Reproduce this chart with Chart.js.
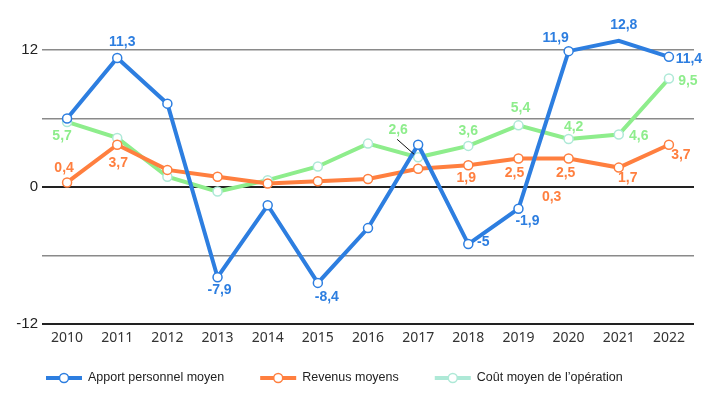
<!DOCTYPE html>
<html>
<head>
<meta charset="utf-8">
<script src="https://cdn.jsdelivr.net/npm/chart.js@4/dist/chart.umd.min.js"></script>
<style>
  body { margin: 0; background: #fff; }
  #wrap { width: 709px; height: 393px; }
</style>
</head>
<body>
<div id="wrap"><canvas id="chart" width="709" height="393"></canvas></div>
<script>
// données
const years = ['2010', '2011', '2012', '2013', '2014', '2015', '2016', '2017', '2018', '2019', '2020', '2021', '2022'];
const apport = [6.0, 11.3, 7.3, -7.9, -1.6, -8.4, -3.6, 3.7, -5, -1.9, 11.9, 12.8, 11.4];
const revenus = [0.4, 3.7, 1.5, 0.9, 0.3, 0.5, 0.7, 1.6, 1.9, 2.5, 2.5, 1.7, 3.7];
const cout = [5.7, 4.3, 0.9, -0.4, 0.6, 1.8, 3.8, 2.6, 3.6, 5.4, 4.2, 4.6, 9.5];
const seriesNames = ['Apport personnel moyen', 'Revenus moyens', 'Coût moyen de l\u2019opération'];
const yLabeled = [-12, 0, 12];

const BLUE = '#2d7ee0', ORANGE = '#ff7f3f', GREEN = '#8eed8c', MINT = '#aee9d7';

// étiquettes : série, index du point, décalage (px)
const labelSpots = [
  { ds: 0, i: 1, dx: 5, dy: -16 },
  { ds: 0, i: 3, dx: 2, dy: 13 },
  { ds: 0, i: 5, dx: 9, dy: 14 },
  { ds: 0, i: 8, dx: 15, dy: -2 },
  { ds: 0, i: 9, dx: 9, dy: 12 },
  { ds: 0, i: 10, dx: -13, dy: -13 },
  { ds: 0, i: 11, dx: 5, dy: -16 },
  { ds: 0, i: 12, dx: 20, dy: 2 },
  { ds: 1, i: 0, dx: -3, dy: -14 },
  { ds: 1, i: 1, dx: 1, dy: 18 },
  { ds: 1, i: 8, dx: -2, dy: 13 },
  { ds: 1, i: 9, dx: -4, dy: 15 },
  { ds: 1, i: 10, dx: -3, dy: 15 },
  { ds: 1, i: 4, at: 10, dx: -17, dy: 39 },
  { ds: 1, i: 11, dx: 9, dy: 11 },
  { ds: 1, i: 12, dx: 12, dy: 10 },
  { ds: 2, i: 0, dx: -5, dy: 14 },
  { ds: 2, i: 7, dx: -20, dy: -27, leader: true },
  { ds: 2, i: 8, dx: 0, dy: -15 },
  { ds: 2, i: 9, dx: 2, dy: -17 },
  { ds: 2, i: 10, dx: 5, dy: -12 },
  { ds: 2, i: 11, dx: 20, dy: 2 },
  { ds: 2, i: 12, dx: 19, dy: 3 }
];

function fmt(v) {
  return String(v).replace('.', ',');
}

const valueLabels = {
  id: 'valueLabels',
  afterDatasetsDraw(chart) {
    const ctx = chart.ctx;
    ctx.save();
    ctx.font = 'bold 14px "Liberation Sans", Arial, sans-serif';
    ctx.textAlign = 'center';
    ctx.textBaseline = 'middle';
    labelSpots.forEach(s => {
      const ds = chart.data.datasets[s.ds];
      const pt = chart.getDatasetMeta(s.ds).data[s.at !== undefined ? s.at : s.i];
      const x = pt.x + s.dx, y = pt.y + s.dy;
      if (s.leader) {
        ctx.strokeStyle = '#111';
        ctx.lineWidth = 1;
        ctx.beginPath();
        ctx.moveTo(x - 1, y + 9);
        ctx.lineTo(pt.x - 4, pt.y - 3);
        ctx.stroke();
      }
      ctx.fillStyle = ds.borderColor;
      ctx.fillText(fmt(ds.data[s.i]), x, y);
    });
    ctx.restore();
  }
};

// légende dessinée à la main
const bottomLegend = {
  id: 'bottomLegend',
  afterDraw(chart) {
    const ctx = chart.ctx;
    const colors = [BLUE, ORANGE, MINT];
    const y = 378;
    let x = 46;
    ctx.save();
    ctx.font = '12.5px "Liberation Sans", Arial, sans-serif';
    ctx.textBaseline = 'middle';
    ctx.textAlign = 'left';
    seriesNames.forEach((name, k) => {
      ctx.strokeStyle = colors[k];
      ctx.lineWidth = 4;
      ctx.beginPath();
      ctx.moveTo(x, y);
      ctx.lineTo(x + 36, y);
      ctx.stroke();
      ctx.fillStyle = '#fff';
      ctx.lineWidth = 1.5;
      ctx.beginPath();
      ctx.arc(x + 18, y, 4.5, 0, Math.PI * 2);
      ctx.fill();
      ctx.stroke();
      ctx.fillStyle = '#222';
      ctx.fillText(name, x + 42, y);
      x += 42 + ctx.measureText(name).width + 36;
    });
    ctx.restore();
  }
};

function lineSet(label, data, color, pointColor) {
  return {
    label: label,
    data: data,
    borderColor: color,
    borderWidth: 4,
    pointRadius: 4.5,
    pointBorderWidth: 1.5,
    pointBackgroundColor: '#fff',
    pointBorderColor: pointColor,
    tension: 0,
    clip: false
  };
}

new Chart(document.getElementById('chart').getContext('2d'), {
  type: 'line',
  data: {
    labels: years,
    datasets: [
      lineSet(seriesNames[0], apport, BLUE, BLUE),
      lineSet(seriesNames[1], revenus, ORANGE, ORANGE),
      lineSet(seriesNames[2], cout, GREEN, MINT)
    ]
  },
  options: {
    responsive: false,
    animation: false,
    layout: { padding: { top: 50, right: 15, bottom: 39, left: 0 } },
    plugins: {
      legend: { display: false },
      tooltip: { enabled: false }
    },
    scales: {
      x: {
        offset: true,
        grid: { display: false, drawTicks: false },
        border: { display: false },
        ticks: {
          padding: 6,
          color: '#333',
          font: { family: '"Noto Sans", sans-serif', size: 14 }
        },
        afterFit: s => { s.height = 30; }
      },
      y: {
        min: -12,
        max: 12,
        grid: {
          drawTicks: false,
          lineWidth: c => (c.tick.value === 0 || c.tick.value === -12) ? 2 : 1.5,
          color: c => (c.tick.value === 0 || c.tick.value === -12) ? '#222' : '#8a8a8a'
        },
        border: { display: false },
        ticks: {
          stepSize: 6,
          padding: 4,
          color: '#222',
          font: { family: '"Liberation Sans", Arial, sans-serif', size: 15 },
          callback: v => yLabeled.includes(v) ? String(v) : ''
        },
        afterFit: s => { s.width = 42; }
      }
    }
  },
  plugins: [valueLabels, bottomLegend]
});
</script>
</body>
</html>
